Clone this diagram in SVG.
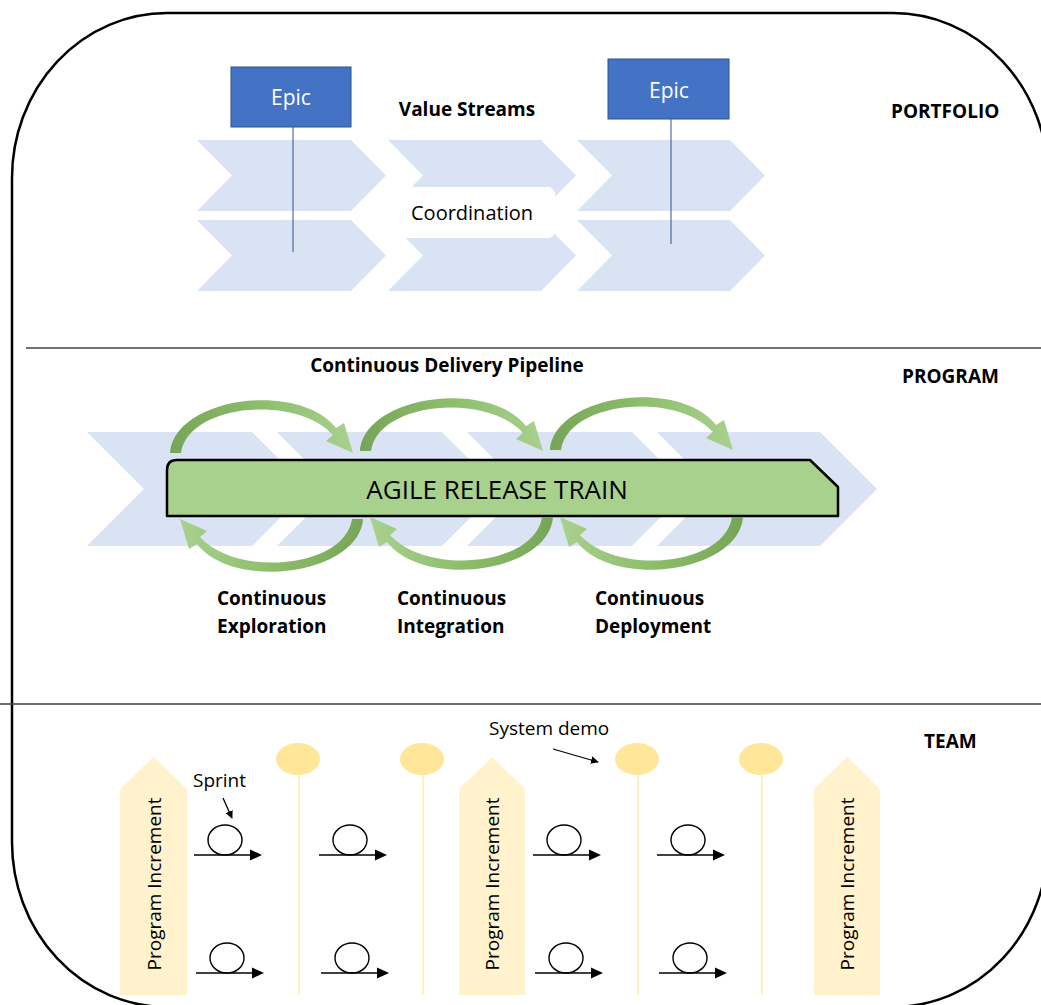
<svg xmlns="http://www.w3.org/2000/svg" width="1041" height="1005" viewBox="0 0 1041 1005">
<style>
.lbl{font-family:"Open Sans","Liberation Sans",sans-serif;fill:#000}
.b{font-weight:bold;font-size:19px}
.chev{fill:#DAE3F3}
.pill{fill:#FFF2CC}
.dot{fill:#FFE699}
.vline{stroke:#FFE699;stroke-width:1.2}
.epic{fill:#4472C4;stroke:#2F528F;stroke-width:1}
.epictxt{font-family:"Open Sans","Liberation Sans",sans-serif;font-size:21px;fill:#fff;text-anchor:middle}
.div{stroke:#404040;stroke-width:1.5}
</style>
<defs>
<linearGradient id="gArrow" x1="0" y1="0" x2="1" y2="0">
<stop offset="0" stop-color="#77A557"/>
<stop offset="0.5" stop-color="#8DBE6C"/>
<stop offset="1" stop-color="#A9D18E"/>
</linearGradient>
<path id="cArrow" d="M 170 453 C 174 398 298 380 336 428 L 344 423 L 353 453 L 326 441 L 333 435 C 296 394 188 404 181 453 Z" fill="url(#gArrow)"/>
<g id="sprint">
<ellipse cx="31" cy="-15" rx="17" ry="15" fill="none" stroke="#000" stroke-width="1.4"/>
<line x1="0" y1="0" x2="58" y2="0" stroke="#000" stroke-width="1.4"/>
<polygon points="56,-5.5 68,0 56,5.5" fill="#000"/>
</g>
<marker id="ah" viewBox="0 0 10 10" refX="9" refY="5" markerWidth="6" markerHeight="6" orient="auto">
<path d="M0,0 L10,5 L0,10 Z" fill="#000"/>
</marker>
</defs>

<rect x="12" y="13" width="1036" height="994" rx="155" ry="165" fill="none" stroke="#000" stroke-width="2.5"/>
<line class="div" x1="26" y1="348" x2="1041" y2="348"/>
<line class="div" x1="0" y1="704" x2="1041" y2="704"/>

<!-- PORTFOLIO -->
<g id="valuestreams">
<polygon class="chev" points="197,140 351,140 386,175.5 351,211 197,211 232,175.5"/>
<polygon class="chev" points="388,140 541,140 576,175.5 541,211 388,211 423,175.5"/>
<polygon class="chev" points="577,140 730,140 765,175.5 730,211 577,211 612,175.5"/>
<polygon class="chev" points="197,220 351,220 386,255.5 351,291 197,291 232,255.5"/>
<polygon class="chev" points="388,220 541,220 576,255.5 541,291 388,291 423,255.5"/>
<polygon class="chev" points="577,220 730,220 765,255.5 730,291 577,291 612,255.5"/>
</g>
<g id="coordination">
<rect x="388" y="187" width="167" height="51" rx="7" fill="#fff"/>
<text class="lbl" x="472" y="220" font-size="20" text-anchor="middle">Coordination</text>
</g>
<g id="epic1">
<rect class="epic" x="231" y="67" width="120" height="60"/>
<text class="epictxt" x="291" y="105">Epic</text>
<line x1="293" y1="127" x2="293" y2="252" stroke="#2F528F" stroke-width="1"/>
</g>
<g id="epic2">
<rect class="epic" x="608" y="59" width="121" height="60"/>
<text class="epictxt" x="669" y="98">Epic</text>
<line x1="671" y1="119" x2="671" y2="244" stroke="#2F528F" stroke-width="1"/>
</g>
<text class="lbl b" x="467" y="116" text-anchor="middle">Value Streams</text>
<text class="lbl b" x="891" y="118">PORTFOLIO</text>

<!-- PROGRAM -->
<text class="lbl b" x="447" y="372" text-anchor="middle">Continuous Delivery Pipeline</text>
<text class="lbl b" x="902" y="383">PROGRAM</text>
<g id="pipeline">
<polygon class="chev" points="87,432 252,432 309,489 252,546 87,546 144,489"/>
<polygon class="chev" points="277,432 442,432 499,489 442,546 277,546 334,489"/>
<polygon class="chev" points="467,432 632,432 689,489 632,546 467,546 524,489"/>
<polygon class="chev" points="657,432 820,432 877,489 820,546 657,546 714,489"/>
</g>
<g id="art">
<path d="M 167 516 L 167 470 Q 167 460 177 460 L 810 460 L 838 487 L 838 516 Z" fill="#A9D18E" stroke="#000" stroke-width="2.5" stroke-linejoin="round"/>
<text class="lbl" x="497" y="499" font-size="26" text-anchor="middle">AGILE RELEASE TRAIN</text>
</g>
<g id="connectors">
<use href="#cArrow"/>
<use href="#cArrow" transform="translate(190,-2)"/>
<use href="#cArrow" transform="translate(380,-3)"/>
<use href="#cArrow" transform="translate(533,972) rotate(180)"/>
<use href="#cArrow" transform="translate(723,970) rotate(180)"/>
<use href="#cArrow" transform="translate(913,970) rotate(180)"/>
<line x1="223" y1="798" x2="232" y2="818" stroke="#000" stroke-width="1.3" marker-end="url(#ah)"/>
<line x1="553" y1="749" x2="598" y2="762" stroke="#000" stroke-width="1.3" marker-end="url(#ah)"/>
</g>
<g id="ce"><text class="lbl b"><tspan x="217" y="605">Continuous</tspan><tspan x="217" y="633">Exploration</tspan></text></g>
<g id="ci"><text class="lbl b"><tspan x="397" y="605">Continuous</tspan><tspan x="397" y="633">Integration</tspan></text></g>
<g id="cd"><text class="lbl b"><tspan x="595" y="605">Continuous</tspan><tspan x="595" y="633">Deployment</tspan></text></g>

<!-- TEAM -->
<text class="lbl b" x="924" y="748">TEAM</text>
<g id="pi1">
<polygon class="pill" points="120,789 153.5,757 187,789 187,995 120,995"/>
<text class="lbl" font-size="19" text-anchor="middle" transform="translate(161,884) rotate(-90)">Program Increment</text>
</g>
<g id="pi2">
<polygon class="pill" points="459,789 492,757 525,789 525,995 459,995"/>
<text class="lbl" font-size="19" text-anchor="middle" transform="translate(499,884) rotate(-90)">Program Increment</text>
</g>
<g id="pi3">
<polygon class="pill" points="814,789 847,757 880,789 880,995 814,995"/>
<text class="lbl" font-size="19" text-anchor="middle" transform="translate(854,884) rotate(-90)">Program Increment</text>
</g>
<g id="demo1"><line class="vline" x1="299" y1="775" x2="299" y2="995"/><ellipse class="dot" cx="298" cy="759" rx="22" ry="16"/></g>
<g id="demo2"><line class="vline" x1="423" y1="775" x2="423" y2="995"/><ellipse class="dot" cx="422" cy="759" rx="22" ry="16"/></g>
<g id="demo3"><line class="vline" x1="638" y1="775" x2="638" y2="995"/><ellipse class="dot" cx="637" cy="759" rx="22" ry="16"/></g>
<g id="demo4"><line class="vline" x1="762" y1="775" x2="762" y2="995"/><ellipse class="dot" cx="761" cy="759" rx="22" ry="16"/></g>
<text class="lbl" x="193" y="787" font-size="19">Sprint</text>
<text class="lbl" x="489" y="735" font-size="19">System demo</text>
<g id="s1"><use href="#sprint" transform="translate(194,855)"/></g>
<g id="s2"><use href="#sprint" transform="translate(319,855)"/></g>
<g id="s3"><use href="#sprint" transform="translate(533,855)"/></g>
<g id="s4"><use href="#sprint" transform="translate(657,855)"/></g>
<g id="s5"><use href="#sprint" transform="translate(196,973)"/></g>
<g id="s6"><use href="#sprint" transform="translate(321,973)"/></g>
<g id="s7"><use href="#sprint" transform="translate(535,973)"/></g>
<g id="s8"><use href="#sprint" transform="translate(659,973)"/></g>
</svg>
